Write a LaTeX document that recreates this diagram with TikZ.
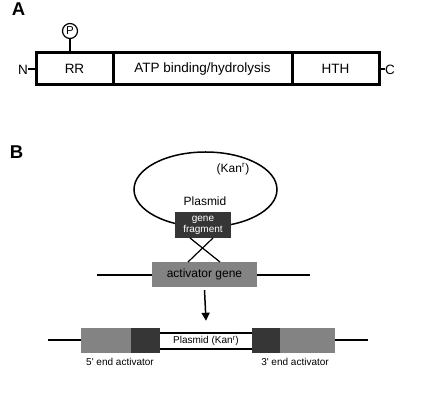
\documentclass[tikz,border=0pt]{standalone}
\usepackage{fontspec}
\setmainfont{Liberation Sans}
\usetikzlibrary{shapes.geometric,arrows.meta,calc}
\definecolor{darkbox}{HTML}{363636}
\definecolor{graybox}{HTML}{838383}
\begin{document}
\begin{tikzpicture}[x=1pt,y=-1pt,
  protdom/.style={draw,line width=3pt,minimum height=32pt,inner sep=0pt,font=\fontsize{13.5}{15}\selectfont},
  panellabel/.style={font=\bfseries\fontsize{18.5}{18.5}\selectfont,inner sep=0pt},
  txtA/.style={font=\fontsize{13.5}{15}\selectfont,inner sep=0pt},
  txtB/.style={font=\fontsize{12}{14}\selectfont,inner sep=0pt},
  txtS/.style={font=\fontsize{10}{11}\selectfont,inner sep=0pt},
  dna/.style={line width=2pt},
  segdark/.style={fill=darkbox,minimum height=25pt,inner sep=0pt},
  seggray/.style={fill=graybox,minimum height=25pt,inner sep=0pt},
]
\useasboundingbox (0,0) rectangle (426,411);
% Panel A
\node[panellabel] (labA) at (18.5,9) {A};
\node[protdom,minimum width=77pt] (rr) at (74.5,69) {RR};
\node[protdom,minimum width=179pt] (atp) at (202.5,69) {ATP binding/hydrolysis};
\node[protdom,minimum width=87pt] (hth) at (335.5,69) {HTH};
\node[draw,circle,line width=1.2pt,minimum size=15pt,inner sep=0pt,font=\fontsize{11.5}{11.5}\selectfont] (p) at (70,31) {P};
\draw[line width=1.5pt] (p.south) -- (p.south |- rr.north);
\node[txtA,anchor=east] (n) at (28,70) {N};
\node[txtA,anchor=west] (c) at (385,70) {C};
\draw[line width=2pt] (n.east |- rr.west) -- (rr.west);
\draw[line width=2pt] (hth.east) -- (c.west |- hth.east);
% Panel B
\node[panellabel] (labB) at (16.5,152) {B};
\node[draw,ellipse,line width=1.5pt,minimum width=143pt,minimum height=75pt,inner sep=0pt] (ring) at (205.5,189.5) {};
\node[txtB] (kan) at (233,169) {(Kan\textsuperscript{r})};
\node[txtB] (plas) at (205,201) {Plasmid};
\coordinate (ll) at (97,275);
\coordinate (lr) at (310,275);
\draw[dna] (ll) -- (lr);
\node[fill=darkbox,minimum width=56pt,minimum height=26pt,inner sep=0pt,text=white,align=center,font=\fontsize{10}{11}\selectfont] (gf) at (203,225) {gene\\fragment};
\node[fill=graybox,minimum width=105pt,minimum height=25pt,inner sep=0pt,txtB] (act) at (204.5,274.5) {activator gene};
\coordinate (x1) at (190,238);
\coordinate (x2) at (213,238);
\coordinate (x3) at (188,262);
\coordinate (x4) at (220,262);
\draw[line width=1.2pt] (x1) -- (x4);
\draw[line width=1.2pt] (x2) -- (x3);
% integrated construct
\node[minimum width=92pt,minimum height=16pt,inner sep=0pt,txtS] (pl) at (206,341) {Plasmid (Kan\textsuperscript{r})};
\draw[line width=1.5pt] (pl.north west) -- (pl.north east);
\draw[line width=1.5pt] (pl.south west) -- (pl.south east);
\node[segdark,minimum width=29pt] (d1) at (145.5,340.5) {};
\node[seggray,minimum width=50pt] (g1) at (106,340.5) {};
\node[segdark,minimum width=28pt] (d2) at (266,340.5) {};
\node[seggray,minimum width=55pt] (g2) at (307.5,340.5) {};
\coordinate (bl) at (48,340);
\coordinate (br) at (368,340);
\draw[dna] (bl) -- (g1.west |- bl);
\draw[dna] (g2.east |- br) -- (br);
\draw[line width=1.5pt,-{Triangle[length=8pt,width=8pt]}] ([yshift=-3pt]act.south) -- ([yshift=12pt]pl.north);
\node[txtS] (l5) at (120,362) {5\textquotesingle{} end activator};
\node[txtS] (l3) at (295,362) {3\textquotesingle{} end activator};
\end{tikzpicture}
\end{document}
